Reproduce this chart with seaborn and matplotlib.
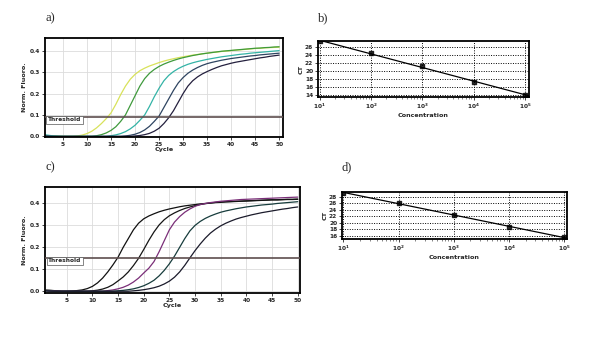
import numpy as np
import pandas as pd
import matplotlib
matplotlib.use("Agg")
import matplotlib.pyplot as plt
import seaborn as sns

sns.set_theme(style="white")
plt.rcParams['font.family'] = ['DejaVu Sans']

cycles = list(range(1, 51))

# Panel a amplification curves (Norm. Fluoro. per cycle)
a1 = [0.004, 0.003, 0.002, 0.001, 0.0, 0.0, 0.0, 0.002, 0.006, 0.013,
      0.024, 0.040, 0.060, 0.083, 0.11, 0.15, 0.195, 0.235, 0.267, 0.29,
      0.307, 0.319, 0.329, 0.337, 0.345, 0.352, 0.358, 0.363, 0.368, 0.372,
      0.376, 0.380, 0.383, 0.386, 0.389, 0.392, 0.394, 0.397, 0.399, 0.401,
      0.403, 0.405, 0.407, 0.409, 0.411, 0.412, 0.414, 0.415, 0.416, 0.417]
a2 = [0.003, 0.002, 0.001, 0.0, 0.0, 0.0, 0.0, 0.0, 0.0, 0.0,
      0.0, 0.003, 0.008, 0.016, 0.028, 0.045, 0.07, 0.10, 0.145, 0.19,
      0.235, 0.27, 0.295, 0.313, 0.327, 0.338, 0.347, 0.355, 0.362, 0.368,
      0.373, 0.378, 0.382, 0.386, 0.389, 0.392, 0.395, 0.398, 0.400, 0.402,
      0.404, 0.406, 0.408, 0.410, 0.412, 0.413, 0.415, 0.416, 0.418, 0.419]
a3 = [0.008, 0.005, 0.002, 0.001, 0.0, 0.0, 0.0, 0.0, 0.0, 0.0,
      0.0, 0.0, 0.0, 0.0, 0.003, 0.007, 0.013, 0.022, 0.035, 0.052,
      0.075, 0.10, 0.14, 0.185, 0.225, 0.26, 0.285, 0.303, 0.317, 0.328,
      0.337, 0.344, 0.350, 0.355, 0.360, 0.364, 0.368, 0.372, 0.375, 0.378,
      0.381, 0.384, 0.386, 0.389, 0.391, 0.393, 0.395, 0.397, 0.399, 0.401]
a4 = [0.002, 0.001, 0.0, 0.0, 0.0, 0.0, 0.0, 0.0, 0.0, 0.0,
      0.0, 0.0, 0.0, 0.0, 0.0, 0.0, 0.0, 0.002, 0.005, 0.010,
      0.018, 0.030, 0.047, 0.07, 0.095, 0.135, 0.175, 0.215, 0.25, 0.275,
      0.295, 0.310, 0.322, 0.332, 0.340, 0.346, 0.351, 0.356, 0.360, 0.364,
      0.367, 0.370, 0.373, 0.376, 0.378, 0.381, 0.383, 0.385, 0.387, 0.389]
a5 = [0.001, 0.0, 0.0, 0.0, 0.0, 0.0, 0.0, 0.0, 0.0, 0.0,
      0.0, 0.0, 0.0, 0.0, 0.0, 0.0, 0.0, 0.0, 0.0, 0.002,
      0.004, 0.008, 0.014, 0.024, 0.038, 0.06, 0.087, 0.12, 0.16, 0.20,
      0.235, 0.26, 0.278, 0.292, 0.303, 0.313, 0.322, 0.330, 0.336, 0.342,
      0.347, 0.351, 0.355, 0.359, 0.363, 0.367, 0.370, 0.374, 0.377, 0.380]

# Panel c amplification curves
c1 = [0.005, 0.004, 0.002, 0.0, 0.0, 0.001, 0.003, 0.006, 0.012, 0.022,
      0.038, 0.06, 0.088, 0.12, 0.155, 0.20, 0.24, 0.28, 0.31, 0.33,
      0.343, 0.353, 0.362, 0.369, 0.375, 0.380, 0.385, 0.389, 0.392, 0.395,
      0.398, 0.400, 0.402, 0.404, 0.405, 0.407, 0.408, 0.409, 0.410, 0.411,
      0.412, 0.413, 0.414, 0.415, 0.416, 0.416, 0.417, 0.418, 0.418, 0.419]
c2 = [0.004, 0.003, 0.001, 0.0, 0.0, 0.0, 0.0, 0.0, 0.0, 0.002,
      0.005, 0.010, 0.018, 0.030, 0.047, 0.065, 0.088, 0.117, 0.15, 0.19,
      0.232, 0.27, 0.302, 0.326, 0.344, 0.357, 0.368, 0.377, 0.384, 0.390,
      0.395, 0.399, 0.402, 0.405, 0.407, 0.408, 0.409, 0.410, 0.411, 0.412,
      0.413, 0.414, 0.415, 0.416, 0.417, 0.417, 0.418, 0.419, 0.419, 0.420]
c3 = [0.003, 0.002, 0.001, 0.0, 0.0, 0.0, 0.0, 0.0, 0.0, 0.0,
      0.0, 0.0, 0.003, 0.006, 0.011, 0.018, 0.028, 0.042, 0.06, 0.083,
      0.105, 0.135, 0.18, 0.23, 0.28, 0.315, 0.34, 0.36, 0.375, 0.387,
      0.395, 0.400, 0.404, 0.407, 0.410, 0.412, 0.414, 0.416, 0.418, 0.419,
      0.420, 0.421, 0.422, 0.423, 0.424, 0.425, 0.426, 0.427, 0.428, 0.429]
c4 = [0.002, 0.001, 0.0, 0.0, 0.0, 0.0, 0.0, 0.0, 0.0, 0.0,
      0.0, 0.0, 0.0, 0.0, 0.002, 0.004, 0.007, 0.011, 0.017, 0.025,
      0.036, 0.050, 0.07, 0.095, 0.125, 0.16, 0.20, 0.24, 0.275, 0.30,
      0.318, 0.332, 0.343, 0.352, 0.360, 0.366, 0.371, 0.376, 0.380, 0.384,
      0.387, 0.390, 0.393, 0.395, 0.397, 0.400, 0.402, 0.404, 0.406, 0.408]
c5 = [0.001, 0.0, 0.0, 0.0, 0.0, 0.0, 0.0, 0.0, 0.0, 0.0,
      0.0, 0.0, 0.0, 0.0, 0.0, 0.0, 0.0, 0.002, 0.004, 0.007,
      0.011, 0.016, 0.023, 0.033, 0.046, 0.064, 0.088, 0.118, 0.152, 0.185,
      0.215, 0.242, 0.265, 0.283, 0.298, 0.310, 0.320, 0.329, 0.336, 0.342,
      0.348, 0.353, 0.358, 0.362, 0.366, 0.370, 0.374, 0.377, 0.381, 0.384]

threshold_a = 0.09
threshold_c = 0.15

# Standard curves
concentration = [1e1, 1e2, 1e3, 1e4, 1e5]
ct_b = [27.3, 24.4, 21.2, 17.2, 14.0]
ct_d = [29.2, 26.0, 22.4, 18.8, 15.6]

colors_a = ["#d8e25a", "#3f9a3c", "#33b3a6", "#2e4461", "#24203e"]
colors_c = ["#111111", "#151515", "#7a2e78", "#173c3c", "#1b1b2b"]

W, H = 600, 340
fig = plt.figure(figsize=(6, 3.4), dpi=100)


def box(l, t, r, b):
    return [l / W, 1 - b / H, (r - l) / W, (b - t) / H]


tick_kw = dict(labelsize=4.2, length=2, width=0.6, pad=1.5)
fs_lab = 4.6


def amp_panel(ax, curves, colors, thr, xlim, ylim, ylab_x):
    df = pd.DataFrame({"cycle": np.tile(cycles, len(curves)),
                       "fluo": np.concatenate(curves),
                       "run": np.repeat(np.arange(len(curves)), len(cycles))})
    sns.lineplot(data=df, x="cycle", y="fluo", hue="run", palette=colors,
                 linewidth=0.9, legend=False, ax=ax)
    ax.axhline(thr, color="#5e4e4e", lw=1.2, zorder=3)
    ax.set_xlim(*xlim)
    ax.set_ylim(*ylim)
    ax.set_xticks([5, 10, 15, 20, 25, 30, 35, 40, 45, 50])
    ax.set_yticks([0.0, 0.1, 0.2, 0.3, 0.4])
    ax.set_yticklabels(["0.0", "0.1", "0.2", "0.3", "0.4"])
    ax.grid(True, color="#dcdcdc", lw=0.6)
    ax.set_axisbelow(True)
    ax.tick_params(axis="both", **tick_kw)
    for lab in ax.get_xticklabels() + ax.get_yticklabels():
        lab.set_fontweight("bold")
    for s in ax.spines.values():
        s.set_color("black")
        s.set_linewidth(1.3)
    ax.set_xlabel("Cycle", fontsize=fs_lab, fontweight="bold", labelpad=0)
    ax.set_ylabel("Norm. Fluoro.", fontsize=fs_lab, fontweight="bold", labelpad=2)
    ax.text(0.012, thr, "Threshold", transform=ax.get_yaxis_transform(),
            fontsize=4.2, fontweight="bold", va="top", ha="left",
            bbox=dict(boxstyle="square,pad=0.25", fc="white", ec="#555555", lw=0.5),
            zorder=5)


def std_panel(ax, ct, xlim, ylim, yticks):
    df = pd.DataFrame({"conc": concentration, "ct": ct})
    ax.set_xscale("log")
    sns.regplot(data=df, x="conc", y="ct", logx=True, ci=None, ax=ax,
                color="black", marker="s",
                scatter_kws=dict(s=5, zorder=4),
                line_kws=dict(lw=0.9), truncate=False)
    ax.set_xscale("log")
    ax.set_xlim(*xlim)
    ax.set_ylim(*ylim)
    ax.set_yticks(yticks)
    ax.set_xticks(concentration)
    ax.set_xticklabels([r"$\mathbf{10^{%d}}$" % k for k in range(1, 6)])
    ax.grid(True, which="major", color="black", lw=0.7, ls=(0, (1, 1.5)))
    ax.tick_params(axis="both", which="major", **tick_kw)
    ax.tick_params(axis="x", which="minor", length=1.2, width=0.4, bottom=True)
    ax.tick_params(axis="x", which="major", bottom=True)
    ax.tick_params(axis="y", left=True)
    for lab in ax.get_yticklabels():
        lab.set_fontweight("bold")
    for s in ax.spines.values():
        s.set_color("black")
        s.set_linewidth(1.3)
    ax.set_xlabel("Concentration", fontsize=fs_lab, fontweight="bold", labelpad=1)
    ax.set_ylabel("CT", fontsize=fs_lab, fontweight="bold", labelpad=1)


ax_a = fig.add_axes(box(45, 38, 283, 137))
amp_panel(ax_a, [a1, a2, a3, a4, a5], colors_a, threshold_a,
          (1.25, 50.8), (-0.003, 0.46), 0)
ax_a.tick_params(axis="both", bottom=True, left=True)

ax_c = fig.add_axes(box(45, 187, 300, 293))
amp_panel(ax_c, [c1, c2, c3, c4, c5], colors_c, threshold_c,
          (0.77, 50.45), (-0.008, 0.475), 0)
ax_c.tick_params(axis="both", bottom=True, left=True)

ax_b = fig.add_axes(box(318, 41, 529, 97))
std_panel(ax_b, ct_b, (10 ** 0.967, 10 ** 5.077), (13.5, 27.4),
          [14, 16, 18, 20, 22, 24, 26])

ax_d = fig.add_axes(box(342, 192, 567, 239))
std_panel(ax_d, ct_d, (10 ** 0.976, 10 ** 5.049), (15.1, 29.4),
          [16, 18, 20, 22, 24, 26, 28])

serif = ["Liberation Serif", "DejaVu Serif"]
fig.text(45 / W, 1 - 18 / H, "a)", fontsize=9, family=serif, va="center", ha="left")
fig.text(318 / W, 1 - 18 / H, "b)", fontsize=9, family=serif, va="center", ha="left")
fig.text(45 / W, 1 - 167 / H, "c)", fontsize=9, family=serif, va="center", ha="left")
fig.text(342 / W, 1 - 167 / H, "d)", fontsize=9, family=serif, va="center", ha="left")

fig.savefig("out.png", dpi=100)
